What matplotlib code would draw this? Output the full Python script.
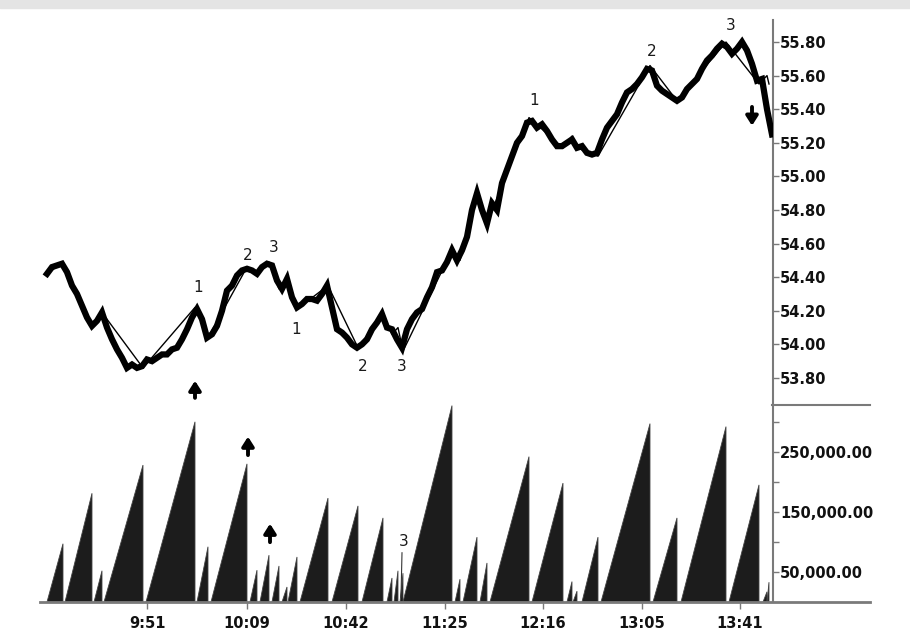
import numpy as np
import matplotlib
matplotlib.use("Agg")
import matplotlib.pyplot as plt
from matplotlib.lines import Line2D
from matplotlib.patches import Rectangle

# precio leido cada 5 barras (barra 0 = inicio de la sesion)
price = [54.42, 54.46, 54.47, 54.48, 54.43, 54.35, 54.30, 54.23, 54.16, 54.11,
         54.14, 54.19, 54.10, 54.03, 53.97, 53.92, 53.86, 53.88, 53.86, 53.87,
         53.91, 53.90, 53.92, 53.94, 53.94, 53.97, 53.98, 54.03, 54.09, 54.16,
         54.21, 54.15, 54.04, 54.06, 54.11, 54.20, 54.32, 54.35, 54.41, 54.44,
         54.45, 54.44, 54.42, 54.46, 54.48, 54.47, 54.38, 54.33, 54.39, 54.28,
         54.22, 54.24, 54.27, 54.27, 54.26, 54.30, 54.35, 54.22, 54.09, 54.07,
         54.04, 54.00, 53.98, 54.00, 54.03, 54.09, 54.13, 54.18, 54.10, 54.09,
         54.03, 53.98, 54.09, 54.15, 54.19, 54.21, 54.28, 54.34, 54.43, 54.44,
         54.49, 54.56, 54.50, 54.56, 54.64, 54.80, 54.90, 54.80, 54.72, 54.84,
         54.80, 54.96, 55.04, 55.12, 55.20, 55.24, 55.32, 55.33, 55.29, 55.31,
         55.27, 55.22, 55.18, 55.18, 55.20, 55.22, 55.17, 55.18, 55.14, 55.13,
         55.14, 55.22, 55.29, 55.33, 55.37, 55.44, 55.50, 55.52, 55.55, 55.59,
         55.64, 55.63, 55.54, 55.51, 55.49, 55.47, 55.45, 55.47, 55.52, 55.55,
         55.58, 55.64, 55.69, 55.72, 55.76, 55.79, 55.77, 55.73, 55.76, 55.80,
         55.75, 55.67, 55.57, 55.58, 55.40, 55.25]
price_bar = np.arange(len(price)) * 5

# ondas de volumen: barra inicial, barra final, volumen acumulado, precio en el giro
wave_start = [0, 18, 47, 57, 99, 150, 164, 203, 213, 225, 235, 241, 253, 285, 315, 340, 347,
              353, 356, 408, 416, 433, 443, 485, 520, 526, 535, 554, 606, 634, 682, 716, 720]
wave_end = [16, 45, 55, 96, 148, 161, 200, 210, 222, 232, 240, 250, 281, 311, 336, 345, 351,
            356, 405, 413, 430, 440, 482, 516, 525, 530, 551, 603, 630, 679, 712, 720, 722]
wave_vol = [97000, 181000, 52000, 228000, 300000, 92000, 230000, 53000, 78000, 60000, 25000,
            75000, 173000, 160000, 140000, 40000, 52000, 48000, 327000, 38000, 108000, 65000,
            242000, 198000, 34000, 18000, 108000, 297000, 140000, 292000, 195000, 17000, 33000]
wave_pivot = [54.49, 54.10, 54.19, 53.86, 54.22, 54.04, 54.46, 54.42, 54.49, 54.33, 54.40,
              54.21, 54.35, 53.98, 54.18, 54.06, 54.10, 53.96, 54.56, 54.50, 54.91, 54.72,
              55.35, 55.17, 55.24, 55.17, 55.12, 55.66, 55.45, 55.80, 55.55, 55.60, 55.55]

# etiquetas de conteo (texto, barra, precio)
count_text = ["1", "2", "3", "1", "2", "3", "1", "2", "3"]
count_bar = [151, 201, 227, 249, 316, 355, 487, 605, 684]
count_price = [54.34, 54.53, 54.575, 54.09, 53.87, 53.87, 55.45, 55.745, 55.90]

tick_pos = [100, 200, 299, 398, 496, 595, 693]
tick_lab = ["9:51", "10:09", "10:42", "11:25", "12:16", "13:05", "13:41"]
price_ticks = [53.80, 54.00, 54.20, 54.40, 54.60, 54.80, 55.00, 55.20, 55.40, 55.60, 55.80]
vol_ticks = [50000, 150000, 250000]
vol_minor = [100000, 200000, 300000]

W, H = 910, 644
gray = "#7a7a7a"
fig = plt.figure(figsize=(W / 100, H / 100), dpi=100)
fig.patches.append(Rectangle((0, 1 - 8 / H), 1, 8 / H, transform=fig.transFigure,
                             color="#e4e4e4", zorder=0))

x0, x1 = 40 / W, 773 / W
ax1 = fig.add_axes([x0, 1 - 405 / H, x1 - x0, 385 / H])
ax2 = fig.add_axes([x0, 1 - 602 / H, x1 - x0, 197 / H], sharex=ax1)

arrow = dict(arrowstyle="-|>,head_width=0.35,head_length=0.55", lw=2.8, color="black")

# panel de precio
ax1.plot(price_bar, price, color="black", lw=4.5, solid_joinstyle="miter", zorder=3)
zz_x = [0] + wave_end
zz_y = [price[0]] + wave_pivot
ax1.plot(zz_x, zz_y, color="black", lw=1.0, zorder=2)
for t, b, p in zip(count_text, count_bar, count_price):
    ax1.text(b, p, t, ha="center", va="center", fontsize=11, color="#1a1a1a")
ax1.annotate("", xy=(148, 53.80), xytext=(148, 53.665), arrowprops=arrow)
ax1.annotate("", xy=(705, 55.285), xytext=(705, 55.43), arrowprops=arrow)
ax1.set_ylim(53.639, 55.931)
ax1.set_yticks(price_ticks)
ax1.set_yticklabels([f"{v:.2f}" for v in price_ticks])

# panel de volumen por ondas
for s, e, v in zip(wave_start, wave_end, wave_vol):
    ax2.fill([s, e, e], [0, v, 0], color="#1c1c1c", lw=0.6, ec="#444444")
ax2.plot([354, 355], [8000, 82000], color="#333333", lw=0.8)
ax2.text(357, 100000, "3", ha="center", va="center", fontsize=11, color="#1a1a1a")
ax2.annotate("", xy=(201, 280000), xytext=(201, 240000), arrowprops=arrow)
ax2.annotate("", xy=(223, 135000), xytext=(223, 95000), arrowprops=arrow)
ax2.set_ylim(0, 328000)
ax2.set_yticks(vol_ticks)
ax2.set_yticklabels([f"{v:,.2f}" for v in vol_ticks])
ax2.set_yticks(vol_minor, minor=True)
ax2.set_xlim(-7, 726)
ax2.set_xticks(tick_pos)
ax2.set_xticklabels(tick_lab)

for ax in (ax1, ax2):
    ax.set_facecolor("none")
    for side in ("left", "top", "bottom"):
        ax.spines[side].set_visible(False)
    ax.spines["right"].set_color(gray)
    ax.spines["right"].set_linewidth(1.5)
    ax.yaxis.tick_right()
    ax.tick_params(axis="y", which="both", direction="out", length=4, width=1, color=gray, pad=1,
                   labelsize=10.5, labelcolor="#111111")
    for lab in ax.get_yticklabels():
        lab.set_fontweight("bold")
ax2.tick_params(axis="y", which="minor", length=4)
ax1.tick_params(axis="x", bottom=False, labelbottom=False)
ax2.tick_params(axis="x", direction="out", length=5, width=1, color=gray, pad=5,
                labelsize=10.5, labelcolor="#111111")
for lab in ax2.get_xticklabels():
    lab.set_fontweight("bold")

# lineas de separacion
fig.add_artist(Line2D([40 / W, 870 / W], [1 - 602 / H] * 2, color=gray, lw=2))
fig.add_artist(Line2D([772 / W, 870 / W], [1 - 405 / H] * 2, color=gray, lw=1.5))

fig.savefig("out.png", dpi=100)
